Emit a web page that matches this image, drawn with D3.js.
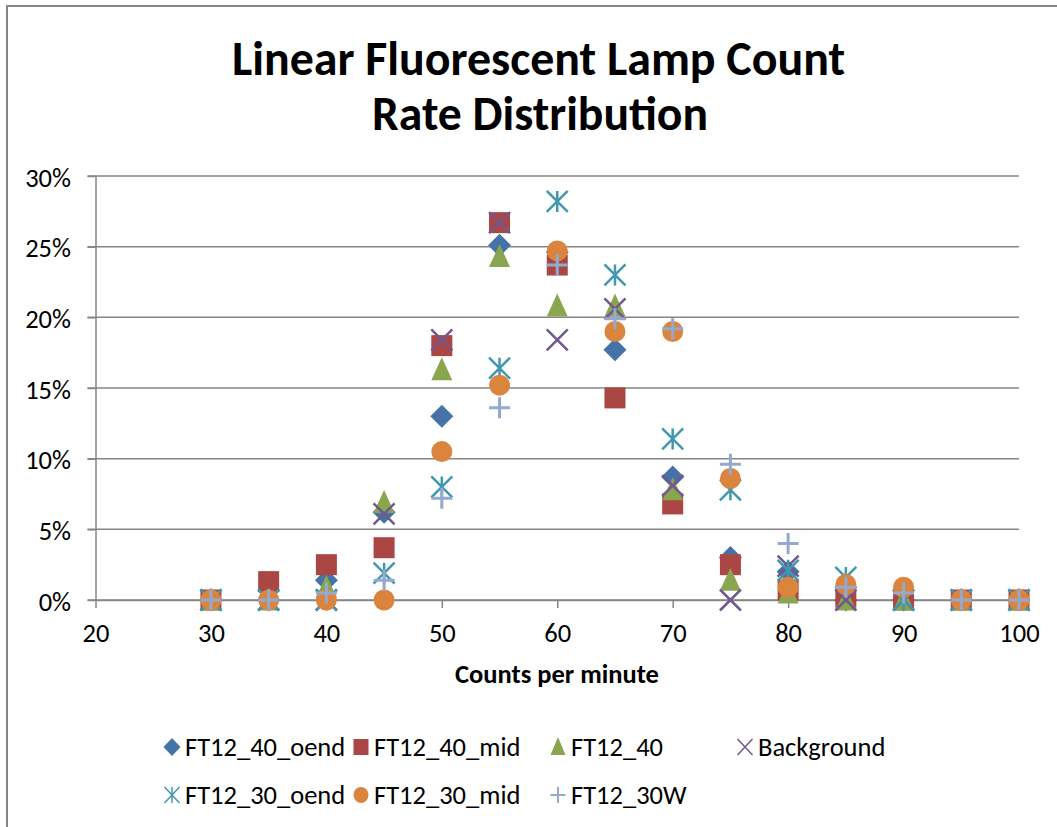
<!DOCTYPE html>
<html>
<head>
<meta charset="utf-8">
<script src="https://cdn.jsdelivr.net/npm/d3@7"></script>
<style>
  body { margin: 0; background: #fff; }
  svg { display: block; }
  text { font-family: Carlito, Calibri, Lato, sans-serif; fill: #000; }
</style>
</head>
<body>
<svg id="chart" width="1057" height="827"></svg>
<script>
// counts per minute (x values shared by all series)
const counts = [30, 35, 40, 45, 50, 55, 60, 65, 70, 75, 80, 85, 90, 95, 100];

// percent of lamps at each count rate
const ft12_40_oend = [0, 0, 1.4, 6.2, 13.0, 25.1, 24.6, 17.7, 8.7, 3.0, 2.0, 0, 0, 0, 0];
const ft12_40_mid  = [0, 1.3, 2.5, 3.7, 18.0, 26.7, 23.7, 14.3, 6.8, 2.5, 0.7, 0.2, 0, 0, 0];
const ft12_40      = [0, 0, 0.9, 6.9, 16.3, 24.3, 20.8, 20.8, 7.8, 1.4, 0.5, 0, 0, 0, 0];
const background   = [0, 0, 0, 6.1, 18.4, 26.7, 18.4, 20.6, 8.1, 0, 2.4, 0, 0, 0, 0];
const ft12_30_oend = [0, 0, 0, 1.9, 8.0, 16.4, 28.2, 23.0, 11.4, 7.8, 2.1, 1.6, 0, 0, 0];
const ft12_30_mid  = [0, 0, 0, 0, 10.5, 15.2, 24.7, 19.0, 19.0, 8.6, 0.9, 1.1, 0.9, 0, 0];
const ft12_30w     = [0, 0, 0.5, 1.4, 7.2, 13.6, 23.7, 19.9, 19.2, 9.6, 4.0, 0.9, 0.5, 0, 0];

const xTicks = [20, 30, 40, 50, 60, 70, 80, 90, 100];
const yTicks = [0, 5, 10, 15, 20, 25, 30];

const series = [
  { name: "FT12_40_oend", values: ft12_40_oend, shape: "diamond", color: "#4572A7" },
  { name: "FT12_40_mid",  values: ft12_40_mid,  shape: "square",  color: "#AA4643" },
  { name: "FT12_40",      values: ft12_40,      shape: "triangle",color: "#89A54E" },
  { name: "Background",   values: background,   shape: "x",       color: "#71588F" },
  { name: "FT12_30_oend", values: ft12_30_oend, shape: "star",    color: "#4198AF" },
  { name: "FT12_30_mid",  values: ft12_30_mid,  shape: "circle",  color: "#DB843D" },
  { name: "FT12_30W",     values: ft12_30w,     shape: "plus",    color: "#93A9CF" }
];

const svg = d3.select("#chart");
const FS = "26.5px";

// chart border (only top/left visible in the picture)
svg.append("path")
  .attr("d", "M7,1060 V6 H1060")
  .attr("fill", "none")
  .attr("stroke", "#868686")
  .attr("stroke-width", 2);

const x = d3.scaleLinear().domain([20, 100]).range([95.5, 1019]);
const y = d3.scaleLinear().domain([0, 30]).range([600, 176]);

// title
svg.append("text")
  .attr("x", 538.5).attr("y", 75)
  .attr("text-anchor", "middle")
  .attr("font-size", "48px")
  .attr("font-weight", "bold")
  .attr("textLength", 613).attr("lengthAdjust", "spacingAndGlyphs")
  .text("Linear Fluorescent Lamp Count");
svg.append("text")
  .attr("x", 540).attr("y", 130)
  .attr("text-anchor", "middle")
  .attr("font-size", "48px")
  .attr("font-weight", "bold")
  .attr("textLength", 336).attr("lengthAdjust", "spacingAndGlyphs")
  .text("Rate Distribution");

// gridlines
svg.append("g")
  .selectAll("line")
  .data(yTicks)
  .join("line")
  .attr("x1", x(20) - 8)
  .attr("x2", x(100))
  .attr("y1", d => y(d))
  .attr("y2", d => y(d))
  .attr("stroke", "#868686")
  .attr("stroke-width", 1.5);

// y axis
const yAxis = svg.append("g")
  .attr("transform", `translate(${x(20)},0)`)
  .call(d3.axisLeft(y).tickValues(yTicks).tickSize(8).tickSizeOuter(0).tickFormat(d => d + "%"));
yAxis.select(".domain").attr("stroke", "#868686").attr("stroke-width", 1.5);
yAxis.selectAll(".tick line").attr("stroke", "#868686").attr("stroke-width", 1.5);
yAxis.selectAll(".tick text")
  .attr("x", -24.5)
  .attr("dy", null)
  .attr("y", 10)
  .attr("font-size", FS);

// x axis
const xAxis = svg.append("g")
  .attr("transform", `translate(0,${y(0)})`)
  .call(d3.axisBottom(x).tickValues(xTicks).tickSize(8).tickSizeOuter(0));
xAxis.select(".domain").attr("stroke", "#868686").attr("stroke-width", 1.5);
xAxis.selectAll(".tick line").attr("stroke", "#868686").attr("stroke-width", 1.5);
xAxis.selectAll(".tick text")
  .attr("dy", null)
  .attr("y", 42)
  .attr("font-size", FS);

svg.append("text")
  .attr("x", 557)
  .attr("y", 683)
  .attr("text-anchor", "middle")
  .attr("font-size", FS)
  .attr("font-weight", "bold")
  .text("Counts per minute");

// marker drawing, w x h box
function drawMarker(g, shape, color, w, hgt, sw) {
  const a = w / 2, b = hgt / 2;
  if (shape === "diamond") {
    g.append("path").attr("d", `M0,${-b - 1}L${a + 1},0L0,${b + 1}L${-a - 1},0Z`).attr("fill", color);
  } else if (shape === "square") {
    g.append("rect").attr("x", -a).attr("y", -b).attr("width", w).attr("height", hgt).attr("fill", color);
  } else if (shape === "triangle") {
    g.append("path").attr("d", `M0,${-b - 2}L${a},${b}L${-a},${b}Z`).attr("fill", color);
  } else if (shape === "circle") {
    g.append("ellipse").attr("rx", a).attr("ry", b).attr("fill", color);
  } else if (shape === "x") {
    g.append("path").attr("d", `M${-a},${-b}L${a},${b}M${a},${-b}L${-a},${b}`)
      .attr("stroke", color).attr("stroke-width", sw).attr("fill", "none");
  } else if (shape === "star") {
    g.append("path").attr("d", `M${-a},${-b}L${a},${b}M${a},${-b}L${-a},${b}M0,${-b}V${b}`)
      .attr("stroke", color).attr("stroke-width", sw).attr("fill", "none");
  } else if (shape === "plus") {
    g.append("path").attr("d", `M${-a},0H${a}M0,${-b}V${b}`)
      .attr("stroke", color).attr("stroke-width", sw + 0.5).attr("fill", "none");
  }
}

// points
series.forEach(sr => {
  const grp = svg.append("g").attr("class", "series");
  sr.values.forEach((v, i) => {
    const m = grp.append("g").attr("transform", `translate(${x(counts[i])},${y(v)})`);
    drawMarker(m, sr.shape, sr.color, 21, 21, 2.5);
  });
});

// legend: text start of each entry, marker sits just left of it
const legendText = [185, 374, 571, 758, 185, 374, 571];
const legendRow = [747, 747, 747, 747, 795, 795, 795];

series.forEach((sr, i) => {
  const m = svg.append("g").attr("transform", `translate(${legendText[i] - 13},${legendRow[i]})`);
  drawMarker(m, sr.shape, sr.color, 15, 16, 1.5);
  svg.append("text")
    .attr("x", legendText[i])
    .attr("y", legendRow[i] + 9)
    .attr("font-size", FS)
    .text(sr.name);
});
</script>
</body>
</html>
